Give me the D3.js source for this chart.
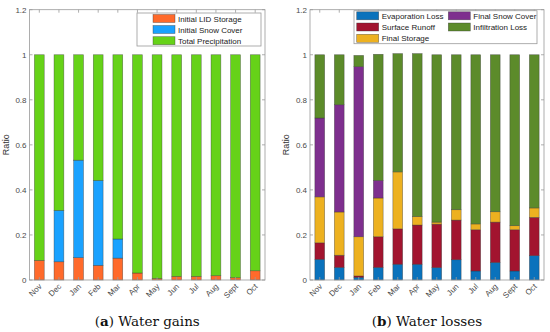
<!DOCTYPE html>
<html><head><meta charset="utf-8">
<script src="https://cdn.jsdelivr.net/npm/d3@7"></script>
<style>body{margin:0;background:#fff}svg{display:block}</style>
</head><body><svg id="c" width="550" height="332"></svg>
<script>
const months = ["Nov","Dec","Jan","Feb","Mar","Apr","May","Jun","Jul","Aug","Sept","Oct"];
const yTicks = [0,0.2,0.4,0.6,0.8,1,1.2];
// (a) Water gains
const gainSeries = ["Initial LID Storage","Initial Snow Cover","Total Precipitation"];
const lidStorage = [0.087,0.081,0.099,0.065,0.097,0.031,0.007,0.016,0.016,0.019,0.010,0.041];
const snowCover  = [0.000,0.228,0.433,0.377,0.085,0.000,0.000,0.000,0.000,0.000,0.000,0.000];
const precip     = [0.913,0.691,0.468,0.558,0.818,0.969,0.993,0.984,0.984,0.981,0.990,0.959];
const gainColors = ["#FF6A2B","#1AA2FF","#66D218"];
// (b) Water losses
const lossSeries = ["Evaporation Loss","Surface Runoff","Final Storage","Final Snow Cover","Infiltration Loss"];
const evapLoss   = [0.092,0.056,0.012,0.056,0.070,0.070,0.055,0.090,0.040,0.078,0.040,0.108];
const runoff     = [0.073,0.054,0.006,0.136,0.157,0.174,0.193,0.176,0.183,0.179,0.183,0.170];
const finStorage = [0.204,0.192,0.174,0.172,0.253,0.038,0.009,0.046,0.026,0.046,0.018,0.042];
const finSnow    = [0.350,0.476,0.755,0.078,0.000,0.000,0.000,0.000,0.000,0.000,0.000,0.000];
const infiltr    = [0.281,0.222,0.050,0.560,0.525,0.723,0.743,0.688,0.751,0.697,0.759,0.680];
const lossColors = ["#0A72BC","#A2142F","#EDB120","#7E2F8E","#5C8B2A"];

const svg = d3.select("#c");
const plotTop = 9.7, plotBottom = 280;
const y = d3.scaleLinear().domain([0,1.2]).range([plotBottom, plotTop]);
const axisCol = "#9a9a9a", textCol = "#4a4a4a";

function panel(x0, x1, seriesNames, seriesVals, colors, legend, caption, bold){
  const g = svg.append("g");
  const x = d3.scaleBand().domain(months).range([x0, x1]).paddingInner(0.5).paddingOuter(0.25);
  const rows = months.map((m,i)=>{const o={m}; seriesNames.forEach((s,k)=>o[s]=seriesVals[k][i]); return o;});
  const stack = d3.stack().keys(seriesNames)(rows);
  stack.forEach((layer,k)=>{
    g.selectAll(null).data(layer).enter().append("rect")
      .attr("x", d=>x(d.data.m)).attr("width", x.bandwidth())
      .attr("y", d=>y(d[1])).attr("height", d=>Math.max(0,y(d[0])-y(d[1])))
      .attr("fill", colors[k]).attr("stroke","#333").attr("stroke-opacity",0.6).attr("stroke-width",0.6);
  });
  g.append("rect").attr("x",x0).attr("y",plotTop).attr("width",x1-x0).attr("height",plotBottom-plotTop)
    .attr("fill","none").attr("stroke",axisCol).attr("stroke-width",0.8);
  yTicks.forEach(t=>{
    g.append("line").attr("x1",x0).attr("x2",x0+3).attr("y1",y(t)).attr("y2",y(t)).attr("stroke",axisCol).attr("stroke-width",0.8);
    g.append("line").attr("x1",x1).attr("x2",x1-3).attr("y1",y(t)).attr("y2",y(t)).attr("stroke",axisCol).attr("stroke-width",0.8);
    g.append("text").attr("x",x0-3).attr("y",y(t)+3).attr("text-anchor","end")
      .attr("font-family","Liberation Sans, Arial, sans-serif").attr("font-size",8).attr("fill",textCol).text(t);
  });
  months.forEach(m=>{
    const cx = x(m)+x.bandwidth()/2;
    g.append("line").attr("x1",cx).attr("x2",cx).attr("y1",plotBottom).attr("y2",plotBottom-3).attr("stroke",axisCol).attr("stroke-width",0.8);
    g.append("line").attr("x1",cx).attr("x2",cx).attr("y1",plotTop).attr("y2",plotTop+3).attr("stroke",axisCol).attr("stroke-width",0.8);
    g.append("text").attr("transform",`translate(${cx+3},${plotBottom+7}) rotate(-45)`).attr("text-anchor","end")
      .attr("font-family","Liberation Sans, Arial, sans-serif").attr("font-size",8).attr("fill",textCol).text(m);
  });
  g.append("text").attr("transform",`translate(${x0-21},${(plotTop+plotBottom)/2}) rotate(-90)`).attr("text-anchor","middle")
    .attr("font-family","Liberation Sans, Arial, sans-serif").attr("font-size",9).attr("fill","#333").text("Ratio");
  g.append("rect").attr("x",legend.x).attr("y",legend.y).attr("width",legend.w).attr("height",legend.h)
    .attr("fill","#fff").attr("stroke",axisCol).attr("stroke-width",0.8);
  seriesNames.forEach((s,k)=>{
    const p = legend.pos[k];
    g.append("rect").attr("x",p[0]).attr("y",p[1]-4).attr("width",22).attr("height",8)
      .attr("fill",colors[k]).attr("stroke","#333").attr("stroke-opacity",0.6).attr("stroke-width",0.6);
    g.append("text").attr("x",p[0]+25).attr("y",p[1]+3)
      .attr("font-family","Liberation Sans, Arial, sans-serif").attr("font-size",8).attr("fill","#222").text(s);
  });
  const cap = g.append("text").attr("x",(x0+x1)/2).attr("y",326).attr("text-anchor","middle")
    .attr("font-family","DejaVu Serif, serif").attr("font-size",13.5).attr("fill","#111");
  cap.append("tspan").text("(");
  cap.append("tspan").attr("font-weight","bold").text(bold);
  cap.append("tspan").text(") " + caption);
}

panel(29.5, 265, gainSeries, [lidStorage, snowCover, precip], gainColors,
  {x:137, y:13, w:124, h:33, pos:[[153,18.5],[153,29.5],[153,40.7]]}, "Water gains", "a");
panel(310, 544, lossSeries, [evapLoss, runoff, finStorage, finSnow, infiltr], lossColors,
  {x:354, y:10.7, w:183, h:33, pos:[[356.7,15.8],[356.7,27],[356.7,38.3],[448.3,15.8],[448.3,27]]}, "Water losses", "b");
</script></body></html>
